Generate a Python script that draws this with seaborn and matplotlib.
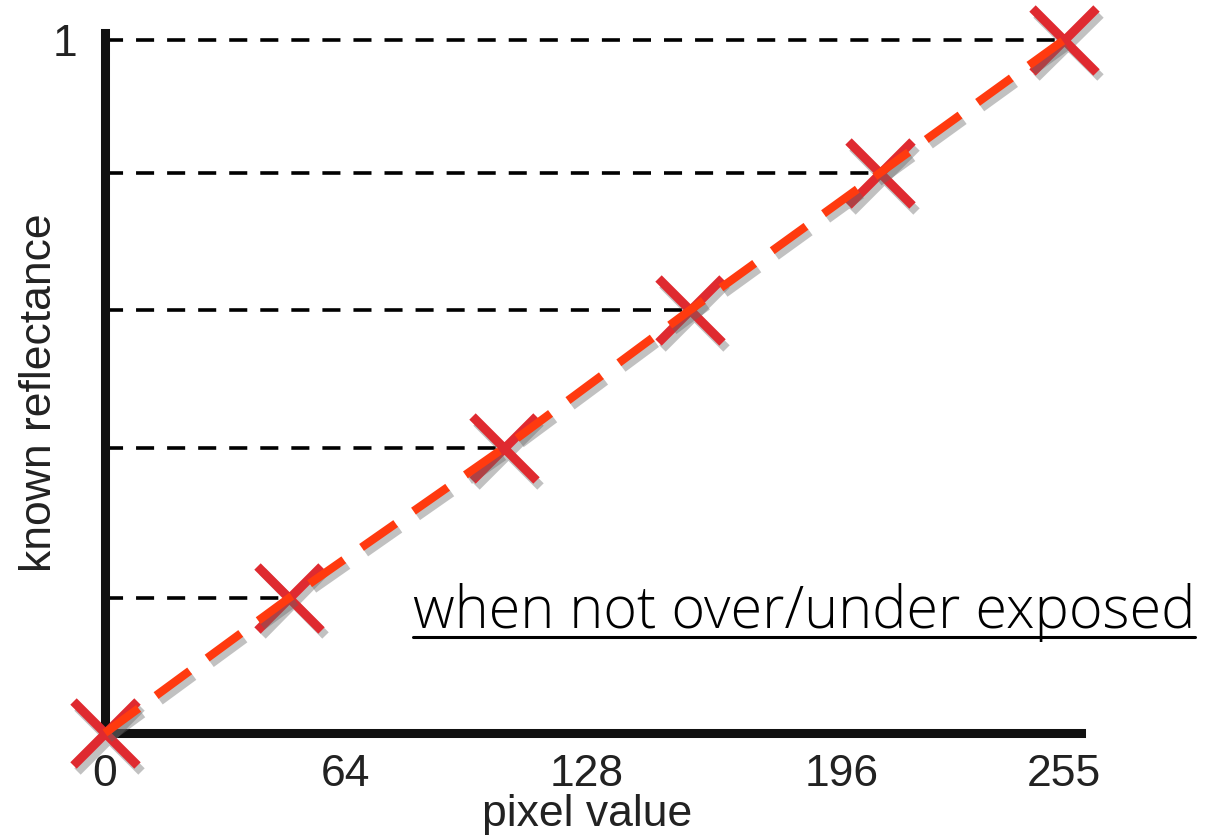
import matplotlib
matplotlib.use("Agg")
import matplotlib.pyplot as plt
import matplotlib.patheffects as pe
from matplotlib.lines import Line2D
import seaborn as sns

# values
pixel_value = [0, 49, 106, 155.5, 206, 255]
reflectance = [0, 0.195, 0.411, 0.61, 0.808, 1.0]
x_ticks = [0, 64, 128, 196, 255]
x_tick_labels = ["0", "64", "128", "196", "255"]
y_ticks = [1]
y_tick_labels = ["1"]
note = "when not over/under exposed"

sns.set_style("white")
plt.rcParams["font.family"] = ["Liberation Sans", "DejaVu Sans"]

fig = plt.figure(figsize=(12.09, 8.35), dpi=100)
ax = fig.add_axes([105 / 1209, 1 - 733 / 835, (1081 - 105) / 1209, (733 - 33) / 835])

shadow = [pe.SimpleLineShadow(offset=(3, -4), shadow_color="0.4", alpha=0.4), pe.Normal()]

# guide lines from the y axis to each point
ax.hlines(reflectance[1:], 0, pixel_value[1:], colors="black", lw=2.6,
          linestyles=(0, (5, 3.6)), zorder=2)

# crosses
ax.plot(pixel_value, reflectance, linestyle="none", marker="x", ms=46, mew=6.5,
        color="#df2a30", zorder=3, clip_on=False, path_effects=shadow)

# dashed fit line
sns.lineplot(x=pixel_value, y=reflectance, ax=ax, color="#ff3a0f", lw=6,
             linestyle=(0, (5, 2.6)), zorder=4, clip_on=False,
             path_effects=shadow)

ax.set_xlim(0, 259.5)
ax.set_ylim(0, 1.01)
ax.set_xticks(x_ticks)
ax.set_xticklabels(x_tick_labels)
ax.set_yticks(y_ticks)
ax.set_yticklabels(y_tick_labels)
ax.tick_params(axis="both", length=0, labelsize=32, colors="#222222")
ax.tick_params(axis="x", pad=15)
ax.tick_params(axis="y", pad=20)

sns.despine(ax=ax)
for side in ["left", "bottom"]:
    ax.spines[side].set_linewidth(6.5)
    ax.spines[side].set_color("#111111")
    ax.spines[side].set_capstyle("projecting")
ax.patch.set_alpha(0)

fig.text(587 / 1209, 1 - 826 / 835, "pixel value", ha="center", va="baseline",
         fontsize=32, color="#222222")
fig.text(40 / 1209, 1 - 393 / 835, "known reflectance", ha="center", va="center",
         rotation=90, fontsize=32, color="#222222")

t = fig.text(413 / 1209, 1 - 628 / 835, note, ha="left", va="baseline",
             fontsize=41.5, color="black", family=["Open Sans", "DejaVu Sans"])
t.set_fontweight("light")

fig.canvas.draw()
bb = t.get_window_extent()
W, H = fig.bbox.width, fig.bbox.height
fig.add_artist(Line2D([bb.x0 / W, bb.x1 / W], [1 - 637 / 835] * 2, transform=fig.transFigure,
                      color="black", lw=2.2))

fig.savefig("out.png", dpi=100)
